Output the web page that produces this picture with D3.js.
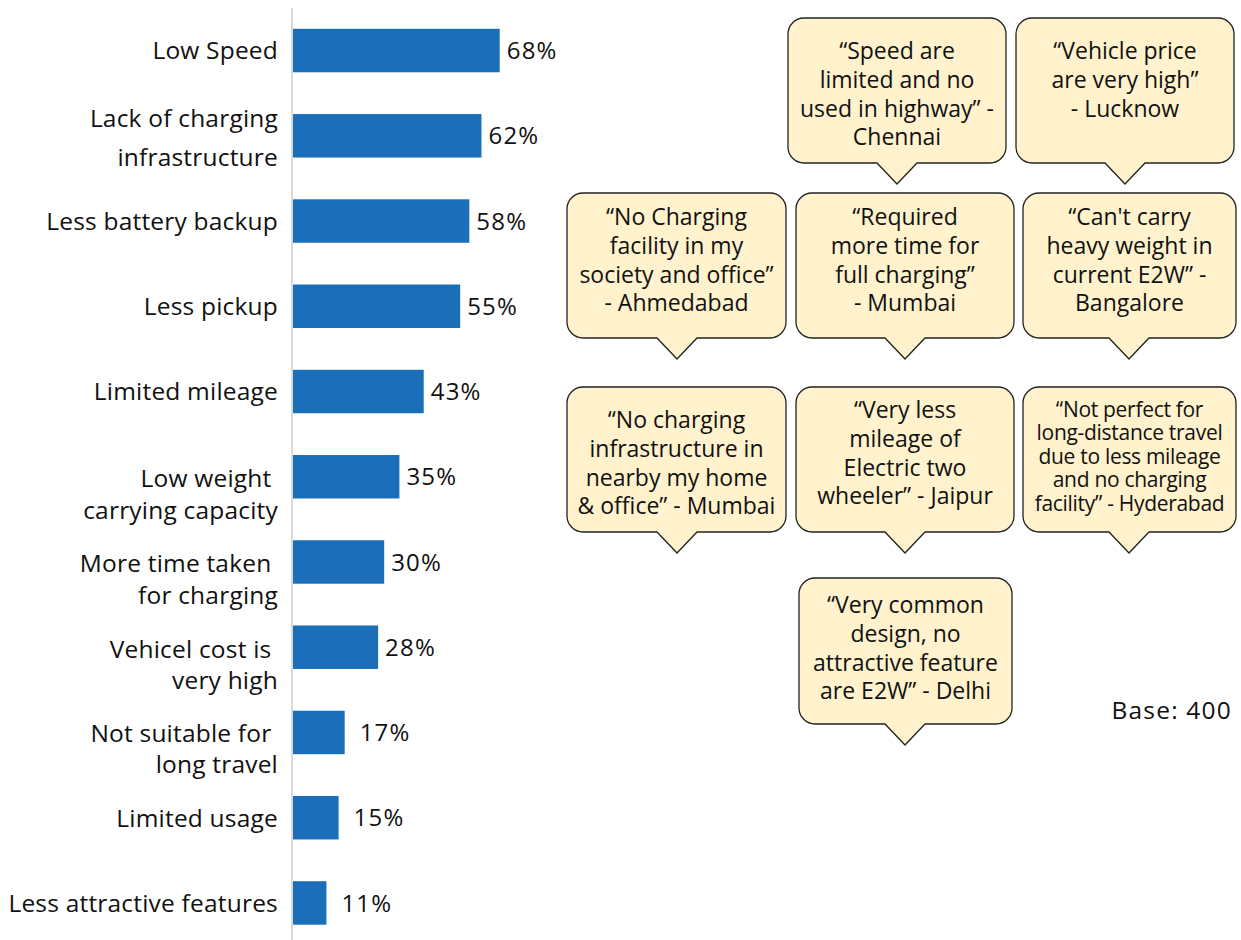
<!DOCTYPE html>
<html>
<head>
<meta charset="utf-8">
<script src="https://cdn.jsdelivr.net/npm/d3@7"></script>
<style>
  body { margin: 0; background: #fff; }
  svg text { font-family: "Open Sans", Lato, sans-serif; fill: #111; white-space: pre; }
</style>
</head>
<body>
<svg width="1241" height="940"></svg>
<script>
// bar chart data
var categories = [
    ["Low Speed"],
    ["Lack of charging", "infrastructure"],
    ["Less battery backup"],
    ["Less pickup"],
    ["Limited mileage"],
    ["Low weight ", "carrying capacity"],
    ["More time taken ", "for charging"],
    ["Vehicel cost is ", "very high"],
    ["Not suitable for ", "long travel"],
    ["Limited usage"],
    ["Less attractive features"]
];
var values = [68, 62, 58, 55, 43, 35, 30, 28, 17, 15, 11];

// quotes shown in the call-outs
var quotes = [
    ["\u201CSpeed are", "limited and no", "used in highway\u201D -", "Chennai"],
    ["\u201CVehicle price", "are very high\u201D", "- Lucknow"],
    ["\u201CNo Charging", "facility in my", "society and office\u201D", "- Ahmedabad"],
    ["\u201CRequired", "more time for", "full charging\u201D", "- Mumbai"],
    ["\u201CCan't carry", "heavy weight in", "current E2W\u201D -", "Bangalore"],
    ["\u201CNo charging", "infrastructure in", "nearby my home", "& office\u201D - Mumbai"],
    ["\u201CVery less", "mileage of", "Electric two", "wheeler\u201D - Jaipur"],
    ["\u201CNot perfect for", "long-distance travel", "due to less mileage", "and no charging", "facility\u201D - Hyderabad"],
    ["\u201CVery common", "design, no", "attractive feature", "are E2W\u201D - Delhi"]
];
var baseNote = "Base: 400";

// call-out box layout (x, y, w, h, tip x, first text line y, font size, line step, letter spacing)
var boxes = [
    [788, 18, 218, 145, 897, 51, 23, 28.7, 0],
    [1016, 18, 218, 145, 1125, 51, 23, 28.7, 0],
    [567, 193, 219, 145, 677, 217, 23, 28.7, 0],
    [796, 193, 218, 145, 905, 217, 23, 28.7, 0],
    [1023, 193, 213, 145, 1129, 217, 23, 28.7, 0],
    [567, 387, 219, 145, 677, 420, 23, 28.7, 0],
    [796, 387, 218, 145, 905, 410, 23, 28.7, 0],
    [1023, 387, 213, 145, 1129, 409, 21, 23.5, -0.3],
    [799, 578, 213, 146, 905, 605, 23, 28.7, 0]
];
// label line offsets from the bar centre
var labelLines = [[0], [-17.5, 21.5], [0], [0], [0], [1, 33], [1, 33], [2, 33], [1, 32], [0], [0]];

var svg = d3.select("svg");

var x = d3.scaleLinear()
    .domain([0, 100])
    .range([293, 293 + 304]);
var y = d3.scaleBand()
    .domain(d3.range(values.length))
    .range([7.5, 946])
    .paddingInner(0.49)
    .paddingOuter(0.25);

// axis line
svg.append("line")
    .attr("x1", 292).attr("x2", 292)
    .attr("y1", 8).attr("y2", 940)
    .attr("stroke", "#d9d9d9").attr("stroke-width", 2);

svg.append("g").selectAll("rect")
    .data(values).enter().append("rect")
    .attr("x", x(0))
    .attr("y", (d, i) => y(i))
    .attr("width", d => x(d) - x(0))
    .attr("height", y.bandwidth())
    .attr("fill", "#1b6fb8");

svg.append("g").selectAll("text")
    .data(values).enter().append("text")
    .attr("x", d => x(d) + (d < 20 ? 15 : 7))
    .attr("y", (d, i) => y(i) + y.bandwidth() / 2)
    .attr("dy", "0.36em")
    .attr("font-size", 24)
    .attr("letter-spacing", 1.2)
    .text(d => d + "%");

// category labels
svg.append("g").selectAll("g")
    .data(categories).enter().append("g")
    .each(function (d, i) {
        var cy = y(i) + y.bandwidth() / 2;
        d3.select(this).selectAll("text")
            .data(d).enter().append("text")
            .attr("text-anchor", "end")
            .attr("font-size", 24.5)
            .attr("letter-spacing", 0.2)
            .attr("x", 278)
            .attr("y", (t, k) => cy + labelLines[i][k])
            .attr("dy", "0.36em")
            .text(t => t);
    });

// call-outs
function calloutPath(b) {
    var bx = b[0], by = b[1], w = b[2], h = b[3], tx = b[4], r = 16;
    var p = d3.path();
    p.moveTo(bx + r, by);
    p.lineTo(bx + w - r, by);
    p.arcTo(bx + w, by, bx + w, by + r, r);
    p.lineTo(bx + w, by + h - r);
    p.arcTo(bx + w, by + h, bx + w - r, by + h, r);
    p.lineTo(tx + 20, by + h);
    p.lineTo(tx, by + h + 21);
    p.lineTo(tx - 20, by + h);
    p.lineTo(bx + r, by + h);
    p.arcTo(bx, by + h, bx, by + h - r, r);
    p.lineTo(bx, by + r);
    p.arcTo(bx, by, bx + r, by, r);
    p.closePath();
    return p.toString();
}

var co = svg.append("g").selectAll("g")
    .data(quotes).enter().append("g");
co.append("path")
    .attr("d", (d, i) => calloutPath(boxes[i]))
    .attr("fill", "#fff2cc")
    .attr("stroke", "#222")
    .attr("stroke-width", 1.3);
co.each(function (d, i) {
    var b = boxes[i];
    d3.select(this).selectAll("text")
        .data(d).enter().append("text")
        .attr("text-anchor", "middle")
        .attr("x", b[0] + b[2] / 2)
        .attr("y", (t, k) => b[5] + k * b[7])
        .attr("dy", "0.36em")
        .attr("font-size", b[6])
        .attr("letter-spacing", b[8])
        .text(t => t);
});

svg.append("text")
    .attr("x", 1232).attr("y", 710)
    .attr("dy", "0.36em")
    .attr("text-anchor", "end")
    .attr("font-size", 24.5)
    .attr("letter-spacing", 1.2)
    .text(baseNote);
</script>
</body>
</html>
